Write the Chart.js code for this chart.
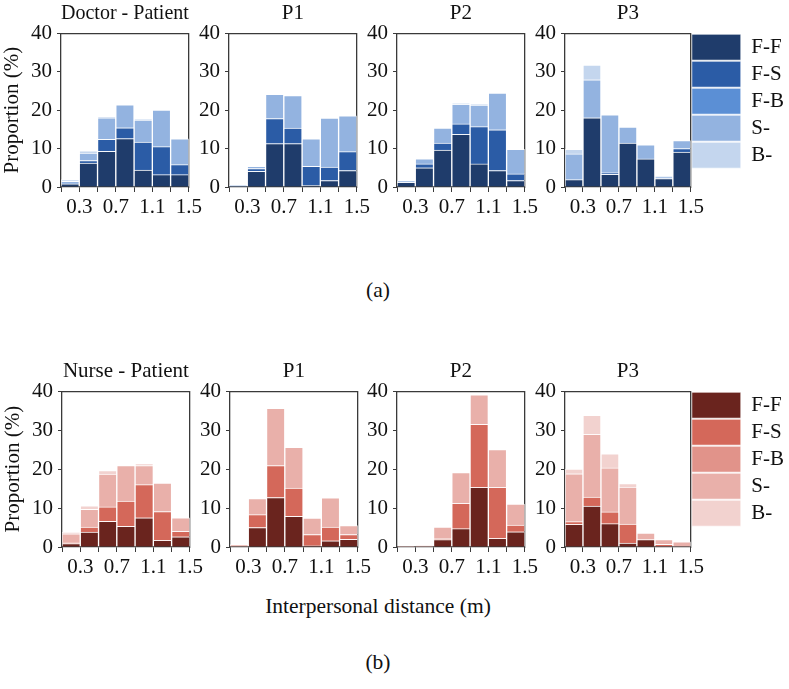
<!DOCTYPE html>
<html>
<head>
<meta charset="utf-8">
<script src="https://cdn.jsdelivr.net/npm/chart.js@4"></script>
<style>
  body { margin: 0; background: #fff; }
  #fig { position: relative; width: 789px; height: 689px; overflow: hidden; }
  #fig canvas { position: absolute; }
  .cap {
    position: absolute; left: 0; width: 756px; text-align: center;
    font-family: "Liberation Serif", serif; font-size: 21.5px; line-height: 24px; color: #111;
  }
</style>
</head>
<body>
<div id="fig">
  <canvas id="dp" width="205" height="227" style="left:0px;top:0px"></canvas>
  <canvas id="dp1" width="205" height="227" style="left:168px;top:0px"></canvas>
  <canvas id="dp2" width="205" height="227" style="left:336px;top:0px"></canvas>
  <canvas id="dp3" width="290" height="227" style="left:504px;top:0px"></canvas>
  <div class="cap" style="top:278px">(a)</div>

  <canvas id="np" width="205" height="229" style="left:1px;top:358px"></canvas>
  <canvas id="np1" width="205" height="229" style="left:169px;top:358px"></canvas>
  <canvas id="np2" width="205" height="229" style="left:336px;top:358px"></canvas>
  <canvas id="np3" width="290" height="229" style="left:504px;top:358px"></canvas>
  <div class="cap" style="top:594px">Interpersonal distance (m)</div>
  <div class="cap" style="top:650px">(b)</div>
</div>
<script>
// bin centres (m) and the edges where ticks sit
const distances = [0.2, 0.4, 0.6, 0.8, 1.0, 1.2, 1.4];
const binEdges = [0.1, 0.3, 0.5, 0.7, 0.9, 1.1, 1.3, 1.5];
const tickLabels = ["0.3", "0.7", "1.1", "1.5"];
const seriesLabels = ["F-F", "F-S", "F-B", "S-", "B-"];

const blues = ["#1f3c6b", "#2b5ca6", "#5b8fd5", "#93b3e0", "#c4d6ee"];
const reds = ["#6a241e", "#d4685a", "#e1938a", "#e9b0aa", "#f2d2cf"];

// rows: F-F, F-S, F-B, S-, B-   (proportion %)
const doctorPatient = [
  [0.8, 6.2, 9.3, 12.6, 4.4, 3.2, 3.2],
  [0, 0.7, 3.1, 2.8, 7.3, 7.3, 2.6],
  [0, 0, 0, 0, 0, 0, 0],
  [0.7, 1.9, 5.6, 6.0, 5.7, 9.5, 6.7],
  [0.4, 0.6, 0.3, 0, 0.2, 0, 0]
];
const doctorP1 = [
  [0.2, 4.1, 11.3, 11.3, 0.4, 1.7, 4.3],
  [0, 0.7, 6.5, 4.0, 5.0, 3.5, 4.9],
  [0, 0, 0, 0, 0, 0, 0],
  [0.2, 0.6, 6.3, 8.5, 7.1, 12.7, 9.3],
  [0, 0, 0, 0, 0, 0, 0]
];
const doctorP2 = [
  [1.2, 5.0, 9.6, 13.7, 6.0, 4.3, 1.7],
  [0, 1.0, 1.8, 2.7, 9.7, 10.6, 1.7],
  [0, 0, 0, 0, 0, 0, 0],
  [0.4, 1.3, 3.9, 5.1, 5.6, 9.5, 6.4],
  [0, 0, 0, 0.2, 0.2, 0, 0]
];
const doctorP3 = [
  [1.9, 18.0, 3.3, 11.4, 7.3, 2.2, 9.1],
  [0, 0, 0.4, 0, 0, 0, 0.9],
  [0, 0, 0, 0, 0, 0, 0],
  [6.7, 9.9, 15.1, 4.2, 3.7, 0.5, 2.1],
  [1.2, 3.8, 0, 0, 0, 0.2, 0]
];
const nursePatient = [
  [0.9, 3.8, 6.6, 5.3, 7.5, 1.7, 2.6],
  [0.2, 1.3, 3.7, 6.5, 8.5, 7.4, 1.4],
  [0, 0, 0, 0, 0, 0, 0],
  [2.3, 4.6, 8.4, 9.1, 4.9, 7.3, 3.5],
  [0.4, 0.9, 0.9, 0, 0.5, 0, 0]
];
const nurseP1 = [
  [0, 5.0, 12.7, 7.9, 0.3, 1.6, 2.0],
  [0, 3.3, 8.2, 7.2, 2.9, 3.5, 1.2],
  [0, 0, 0, 0, 0, 0, 0],
  [0.6, 4.1, 14.7, 10.5, 4.2, 7.5, 2.3],
  [0, 0, 0, 0, 0, 0, 0]
];
const nurseP2 = [
  [0, 0, 1.9, 4.7, 15.3, 2.2, 3.9],
  [0, 0, 0.3, 6.5, 16.2, 13.1, 1.7],
  [0, 0, 0, 0, 0, 0, 0],
  [0.2, 0.3, 2.9, 7.9, 7.6, 9.7, 5.4],
  [0, 0, 0, 0, 0, 0, 0]
];
const nurseP3 = [
  [5.8, 10.5, 6.0, 1.0, 1.9, 0.2, 0],
  [0.7, 2.3, 3.0, 4.9, 0, 0.5, 0],
  [0, 0, 0, 0, 0, 0, 0],
  [12.3, 16.1, 11.3, 9.5, 1.7, 1.2, 1.3],
  [1.2, 4.9, 3.6, 0.9, 0, 0, 0]
];

Chart.defaults.font.family = "'Liberation Serif', serif";
Chart.defaults.font.size = 21;
Chart.defaults.color = "#111";

const axisColor = "#3a3a3a";

function panel(id, title, rows, colors, first, legend) {
  const ctx = document.getElementById(id).getContext("2d");
  return new Chart(ctx, {
    type: "bar",
    data: {
      datasets: rows.map((vals, i) => ({
        label: seriesLabels[i],
        data: vals.map((v, j) => ({ x: distances[j], y: v })),
        backgroundColor: colors[i],
        borderColor: "rgba(255,255,255,0.7)",
        borderWidth: 1,
        barPercentage: 1,
        categoryPercentage: 1
      }))
    },
    options: {
      responsive: false,
      animation: false,
      layout: { padding: { right: legend ? 0 : 16 } },
      scales: {
        x: {
          type: "linear",
          stacked: true,
          min: 0.1,
          max: 1.5,
          offset: false,
          afterBuildTicks: s => { s.ticks = binEdges.map(v => ({ value: v })); },
          afterFit: s => { s.height = 40; },
          ticks: {
            autoSkip: false,
            maxRotation: 0,
            callback: v => {
              const t = Number(v).toFixed(1);
              return tickLabels.includes(t) ? t : "";
            }
          },
          grid: { drawOnChartArea: false, offset: false, tickLength: 5, color: axisColor },
          border: { color: axisColor, width: 1.3 }
        },
        y: {
          stacked: true,
          min: 0,
          max: 40,
          ticks: { stepSize: 10, padding: 5 },
          grid: { drawOnChartArea: false, tickLength: 4, color: axisColor },
          border: { color: axisColor, width: 1.3 },
          title: { display: first, text: "Proportion (%)", padding: 0 },
          afterFit: s => { s.width = 61; }
        },
        x2: {
          type: "linear",
          position: "top",
          ticks: { display: false },
          grid: { drawOnChartArea: false, drawTicks: false },
          border: { color: axisColor, width: 1.3 }
        },
        y2: {
          type: "linear",
          position: "right",
          ticks: { display: false },
          grid: { drawOnChartArea: false, drawTicks: false },
          border: { color: axisColor, width: 1.3 }
        }
      },
      plugins: {
        title: {
          display: true,
          text: title,
          fullSize: false,
          padding: { top: 1, bottom: 7 },
          font: { size: 21, weight: "normal" }
        },
        legend: {
          display: legend,
          position: "right",
          align: "start",
          fullSize: false,
          maxWidth: 130,
          labels: { boxWidth: 49, boxHeight: 26, padding: 1, font: { size: 21 } }
        },
        tooltip: { enabled: false }
      }
    }
  });
}

panel("dp", "Doctor - Patient", doctorPatient, blues, true, false);
panel("dp1", "P1", doctorP1, blues, false, false);
panel("dp2", "P2", doctorP2, blues, false, false);
panel("dp3", "P3", doctorP3, blues, false, true);

panel("np", "Nurse - Patient", nursePatient, reds, true, false);
panel("np1", "P1", nurseP1, reds, false, false);
panel("np2", "P2", nurseP2, reds, false, false);
panel("np3", "P3", nurseP3, reds, false, true);
</script>
</body>
</html>
